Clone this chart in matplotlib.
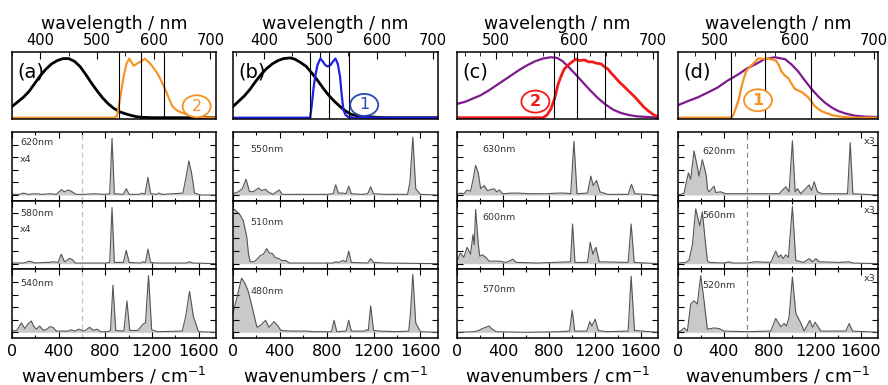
import matplotlib
matplotlib.use('Agg')
import matplotlib.pyplot as plt
from matplotlib.patches import Ellipse
from matplotlib.ticker import MultipleLocator

# ---------------- top panels: absorption / excitation spectra ----------------
a_black_wl = [350, 360, 370, 380, 390, 400, 410, 420, 430, 440, 450, 460, 470,
              480, 490, 500, 510, 520, 530, 540, 550, 560, 570, 580, 600, 710]
a_black = [0.17, 0.24, 0.31, 0.40, 0.52, 0.64, 0.74, 0.82, 0.87, 0.90, 0.90,
           0.86, 0.78, 0.66, 0.53, 0.41, 0.30, 0.21, 0.14, 0.09, 0.06, 0.035,
           0.015, 0.005, 0.0, 0.0]
a_orange_wl = [350, 530, 535, 540, 547, 552, 557, 561, 565, 570, 574, 579, 584,
               588, 591, 597, 604, 610, 616, 622, 627, 632, 637, 643, 649, 655,
               663, 671, 680, 690, 710]
a_orange = [0.0, 0.0, 0.02, 0.25, 0.63, 0.82, 0.90, 0.84, 0.79, 0.82, 0.84,
            0.86, 0.90, 0.87, 0.85, 0.79, 0.71, 0.62, 0.51, 0.40, 0.29, 0.19,
            0.14, 0.10, 0.08, 0.06, 0.04, 0.03, 0.015, 0.0, 0.0]

b_black_wl = [345, 355, 365, 375, 385, 395, 405, 415, 425, 435, 447, 455, 465,
              475, 485, 495, 505, 515, 525, 535, 545, 555, 565, 580, 600, 620, 709]
b_black = [0.17, 0.25, 0.33, 0.43, 0.55, 0.66, 0.75, 0.82, 0.87, 0.90, 0.91,
           0.89, 0.84, 0.78, 0.68, 0.57, 0.45, 0.34, 0.25, 0.17, 0.10, 0.05,
           0.03, 0.02, 0.005, 0.0, 0.0]
b_blue_wl = [345, 482, 485, 488, 491, 495, 500, 504, 509, 513, 518, 523, 527,
             531, 535, 538, 541, 545, 550, 560, 709]
b_blue = [0.0, 0.0, 0.2, 0.45, 0.63, 0.80, 0.90, 0.86, 0.80, 0.78, 0.80, 0.86,
          0.90, 0.82, 0.63, 0.35, 0.12, 0.04, 0.01, 0.0, 0.0]

c_purple_wl = [450, 460, 470, 480, 490, 500, 510, 520, 530, 540, 550, 560, 570,
               578, 585, 592, 600, 610, 620, 630, 640, 650, 660, 670, 680, 695, 707]
c_purple = [0.21, 0.24, 0.29, 0.34, 0.41, 0.49, 0.57, 0.65, 0.73, 0.80, 0.86,
            0.90, 0.92, 0.91, 0.86, 0.78, 0.68, 0.55, 0.42, 0.30, 0.20, 0.12,
            0.07, 0.04, 0.02, 0.01, 0.0]
c_red_wl = [450, 560, 565, 570, 575, 579, 583, 587, 592, 596, 602, 607, 613, 618,
            623, 628, 634, 638, 643, 647, 651, 657, 664, 670, 677, 683, 689, 695,
            702, 707]
c_red = [0.0, 0.0, 0.04, 0.13, 0.30, 0.50, 0.63, 0.74, 0.80, 0.84, 0.89, 0.87,
         0.88, 0.85, 0.85, 0.83, 0.82, 0.78, 0.74, 0.68, 0.63, 0.55, 0.47, 0.40,
         0.32, 0.24, 0.16, 0.10, 0.04, 0.02]

d_purple_wl = [453, 465, 478, 490, 503, 515, 529, 540, 550, 562, 575, 588, 596,
               604, 612, 621, 630, 638, 646, 655, 665, 676, 690, 705]
d_purple = [0.19, 0.25, 0.31, 0.38, 0.46, 0.56, 0.66, 0.75, 0.81, 0.89, 0.92,
            0.89, 0.81, 0.71, 0.58, 0.44, 0.32, 0.23, 0.16, 0.10, 0.06, 0.03,
            0.015, 0.01]
d_orange_wl = [453, 520, 523, 526, 530, 533, 536, 539, 543, 547, 550, 554, 558,
               562, 566, 570, 574, 577, 580, 583, 587, 592, 596, 600, 605, 609,
               613, 617, 621, 625, 630, 634, 640, 647, 655, 663, 675, 705]
d_orange = [0.0, 0.0, 0.05, 0.15, 0.30, 0.47, 0.60, 0.71, 0.77, 0.81, 0.85,
            0.90, 0.90, 0.89, 0.90, 0.89, 0.88, 0.86, 0.80, 0.71, 0.65, 0.60,
            0.52, 0.44, 0.41, 0.39, 0.35, 0.31, 0.25, 0.18, 0.13, 0.10, 0.07,
            0.04, 0.02, 0.01, 0.0, 0.0]

# excitation wavelengths (vertical lines)
a_lines = [539, 578, 619]
b_lines = [482, 515, 551]
c_lines = [574, 604, 639]
d_lines = [520, 562, 621]

# ---------------- bottom panels: Raman spectra ----------------
a620_wn = [0, 60, 100, 140, 200, 260, 330, 380, 423, 450, 480, 508, 550, 620,
           700, 800, 838, 858, 878, 955, 980, 1005, 1095, 1117, 1140, 1166, 1190,
           1240, 1260, 1290, 1466, 1495, 1517, 1540, 1566, 1620, 1750]
a620 = [0.01, 0.01, 0.03, 0.01, 0.02, 0.01, 0.02, 0.01, 0.085, 0.05, 0.08, 0.06,
        0.01, 0.01, 0.02, 0.01, 0.02, 0.9, 0.02, 0.01, 0.1, 0.01, 0.01, 0.03,
        0.01, 0.28, 0.02, 0.01, 0.03, 0.01, 0.03, 0.3, 0.54, 0.35, 0.03, 0.0, 0.0]
a580_wn = [0, 100, 151, 200, 280, 320, 350, 395, 423, 450, 470, 494, 520, 545,
           600, 700, 800, 838, 858, 878, 955, 980, 1005, 1100, 1125, 1145, 1166,
           1190, 1240, 1495, 1523, 1550, 1750]
a580 = [0.01, 0.01, 0.04, 0.01, 0.02, 0.02, 0.03, 0.02, 0.15, 0.03, 0.05, 0.085,
        0.06, 0.01, 0.01, 0.01, 0.01, 0.02, 0.89, 0.02, 0.02, 0.21, 0.02, 0.01,
        0.03, 0.02, 0.23, 0.02, 0.01, 0.01, 0.03, 0.01, 0.0]
a540_wn = [0, 40, 80, 110, 140, 166, 185, 210, 237, 270, 300, 323, 351, 380, 430,
           480, 508, 540, 570, 620, 666, 700, 730, 760, 820, 845, 866, 890, 960,
           986, 1010, 1080, 1110, 1125, 1145, 1171, 1198, 1250, 1460, 1490, 1523,
           1556, 1600, 1750]
a540 = [0.02, 0.03, 0.15, 0.06, 0.14, 0.18, 0.1, 0.05, 0.1, 0.03, 0.05, 0.09,
        0.08, 0.02, 0.02, 0.02, 0.04, 0.02, 0.05, 0.02, 0.08, 0.03, 0.05, 0.01,
        0.01, 0.03, 0.75, 0.03, 0.02, 0.5, 0.03, 0.03, 0.1, 0.13, 0.15, 0.9,
        0.04, 0.01, 0.02, 0.25, 0.65, 0.25, 0.01, 0.0]

b550_wn = [0, 44, 80, 111, 140, 170, 219, 245, 278, 300, 340, 395, 420, 500, 600,
           700, 800, 855, 877, 900, 940, 965, 988, 1010, 1100, 1150, 1175, 1200,
           1300, 1490, 1510, 1535, 1560, 1600, 1750]
b550 = [0.02, 0.05, 0.1, 0.25, 0.06, 0.05, 0.11, 0.07, 0.09, 0.05, 0.01, 0.08,
        0.01, 0.01, 0.01, 0.01, 0.01, 0.02, 0.16, 0.03, 0.03, 0.02, 0.14, 0.02,
        0.01, 0.02, 0.13, 0.02, 0.01, 0.01, 0.2, 0.92, 0.1, 0.01, 0.0]
b510_wn = [0, 15, 58, 88, 117, 132, 146, 180, 210, 234, 260, 287, 310, 336, 360,
           390, 420, 453, 480, 600, 800, 850, 877, 900, 940, 965, 988, 1010, 1150,
           1175, 1200, 1300, 1750]
b510 = [0.86, 0.86, 0.78, 0.68, 0.43, 0.16, 0.03, 0.03, 0.08, 0.13, 0.15, 0.24,
        0.17, 0.16, 0.1, 0.08, 0.05, 0.05, 0.01, 0.01, 0.01, 0.01, 0.03, 0.02,
        0.05, 0.03, 0.2, 0.02, 0.01, 0.08, 0.02, 0.01, 0.0]
b480_wn = [0, 15, 40, 73, 102, 132, 161, 190, 205, 234, 278, 307, 351, 380, 409,
           500, 560, 620, 700, 840, 863, 886, 965, 988, 1010, 1120, 1140, 1155,
           1175, 1200, 1250, 1400, 1500, 1515, 1535, 1560, 1600, 1750]
b480 = [0.3, 0.42, 0.6, 0.86, 0.78, 0.64, 0.42, 0.19, 0.08, 0.11, 0.19, 0.08,
        0.17, 0.11, 0.03, 0.02, 0.02, 0.02, 0.01, 0.01, 0.19, 0.01, 0.02, 0.19,
        0.02, 0.02, 0.04, 0.03, 0.42, 0.03, 0.02, 0.01, 0.02, 0.3, 0.92, 0.15,
        0.01, 0.0]

c630_wn = [0, 29, 60, 88, 118, 140, 162, 185, 206, 236, 265, 324, 345, 369, 398,
           472, 531, 634, 782, 870, 944, 990, 1018, 1045, 1136, 1165, 1186, 1215,
           1245, 1313, 1490, 1519, 1549, 1750]
c630 = [0.01, 0.03, 0.02, 0.08, 0.06, 0.25, 0.47, 0.35, 0.1, 0.15, 0.07, 0.1,
        0.05, 0.08, 0.02, 0.03, 0.03, 0.02, 0.02, 0.03, 0.03, 0.02, 0.85, 0.02,
        0.03, 0.3, 0.15, 0.23, 0.05, 0.01, 0.01, 0.17, 0.02, 0.0]
c600_wn = [0, 15, 29, 59, 88, 118, 139, 150, 162, 186, 198, 221, 251, 280, 369,
           428, 487, 516, 700, 988, 1006, 1027, 1136, 1160, 1183, 1209, 1239,
           1490, 1516, 1543, 1750]
c600 = [0.05, 0.1, 0.17, 0.1, 0.26, 0.15, 0.46, 0.3, 0.86, 0.3, 0.12, 0.14, 0.1,
        0.04, 0.04, 0.02, 0.07, 0.02, 0.01, 0.03, 0.63, 0.02, 0.02, 0.34, 0.15,
        0.26, 0.03, 0.02, 0.63, 0.02, 0.0]
c570_wn = [0, 150, 190, 221, 250, 280, 300, 340, 600, 900, 980, 1003, 1025, 1130,
           1156, 1175, 1203, 1230, 1300, 1490, 1516, 1545, 1750]
c570 = [0.0, 0.01, 0.03, 0.06, 0.08, 0.1, 0.06, 0.01, 0.0, 0.01, 0.02, 0.35,
        0.02, 0.02, 0.17, 0.1, 0.21, 0.03, 0.01, 0.02, 0.89, 0.03, 0.0]

d620_wn = [0, 23, 53, 73, 91, 111, 140, 169, 184, 213, 236, 248, 257, 272, 315,
           330, 374, 418, 622, 885, 943, 972, 1001, 1025, 1045, 1074, 1147, 1168,
           1191, 1220, 1264, 1483, 1507, 1530, 1750]
d620 = [0.01, 0.01, 0.03, 0.2, 0.35, 0.25, 0.7, 0.45, 0.3, 0.56, 0.4, 0.3, 0.1,
        0.05, 0.14, 0.04, 0.05, 0.02, 0.02, 0.02, 0.13, 0.05, 0.86, 0.05, 0.1,
        0.02, 0.16, 0.07, 0.21, 0.05, 0.02, 0.02, 0.83, 0.02, 0.0]
d560_wn = [0, 67, 96, 126, 155, 190, 213, 242, 257, 272, 400, 447, 476, 600, 680,
           812, 855, 879, 899, 920, 943, 966, 1001, 1031, 1100, 1147, 1177, 1206,
           1235, 1410, 1498, 1530, 1750]
d560 = [0.01, 0.02, 0.05, 0.3, 0.87, 0.6, 0.82, 0.3, 0.05, 0.02, 0.01, 0.03,
        0.01, 0.01, 0.03, 0.02, 0.2, 0.1, 0.14, 0.08, 0.14, 0.1, 0.91, 0.05, 0.02,
        0.08, 0.03, 0.08, 0.03, 0.02, 0.03, 0.01, 0.0]
d520_wn = [0, 23, 53, 82, 111, 140, 169, 199, 228, 257, 315, 359, 403, 600, 812,
           855, 899, 929, 949, 972, 1001, 1031, 1074, 1104, 1153, 1177, 1200, 1250,
           1469, 1498, 1527, 1750]
d520 = [0.01, 0.02, 0.07, 0.02, 0.45, 0.5, 0.45, 0.9, 0.5, 0.05, 0.07, 0.06,
        0.02, 0.01, 0.02, 0.22, 0.09, 0.14, 0.1, 0.24, 0.88, 0.3, 0.15, 0.02,
        0.19, 0.08, 0.16, 0.02, 0.02, 0.14, 0.02, 0.0]

ORANGE = '#f7901e'
BLUE = '#1f1fe6'
RED = '#f21b1b'
PURPLE = '#7d1a8c'

W, H = 888, 385
fig = plt.figure(figsize=(W / 100, H / 100), dpi=100)


def rect(x0, y0, w, h):
    # pixel box (top-left origin) -> figure fraction
    return [x0 / W, 1 - (y0 + h) / H, w / W, h / H]


cols = [(12, 204), (233, 205), (457, 201), (678, 200)]

top_specs = [
    dict(xlim=(350, 710), major=[400, 500, 600, 700], minor=50, label='(a)',
         curves=[(a_black_wl, a_black, 'black', 2.0), (a_orange_wl, a_orange, ORANGE, 1.5)],
         lines=a_lines, circ=('2', ORANGE, 'normal', 0.905, 0.19)),
    dict(xlim=(345, 709), major=[400, 500, 600, 700], minor=50, label='(b)',
         curves=[(b_black_wl, b_black, 'black', 2.0), (b_blue_wl, b_blue, BLUE, 1.6)],
         lines=b_lines, circ=('1', '#2a48b0', 'normal', 0.64, 0.21)),
    dict(xlim=(450, 707), major=[500, 600, 700], minor=20, label='(c)',
         curves=[(c_purple_wl, c_purple, PURPLE, 1.6), (c_red_wl, c_red, RED, 2.0)],
         lines=c_lines, circ=('2', RED, 'bold', 0.39, 0.26)),
    dict(xlim=(453, 705), major=[500, 600, 700], minor=25, label='(d)',
         curves=[(d_purple_wl, d_purple, PURPLE, 1.6), (d_orange_wl, d_orange, ORANGE, 1.6)],
         lines=d_lines, circ=('1', ORANGE, 'bold', 0.40, 0.28)),
]

for (x0, w), sp in zip(cols, top_specs):
    ax = fig.add_axes(rect(x0, 52, w, 67))
    for wl, val, c, lw in sp['curves']:
        ax.plot(wl, val, color=c, lw=lw, solid_joinstyle='round')
    for v in sp['lines']:
        ax.axvline(v, color='black', lw=0.8)
    ax.set_xlim(*sp['xlim'])
    ax.set_ylim(-0.02, 1.0)
    ax.set_yticks([])
    ax.xaxis.tick_top()
    ax.xaxis.set_label_position('top')
    ax.set_xticks(sp['major'])
    ax.xaxis.set_minor_locator(MultipleLocator(sp['minor']))
    ax.tick_params(axis='x', which='both', direction='in', top=True, bottom=False,
                   labelsize=10.5, pad=3)
    ax.tick_params(axis='x', which='major', length=5)
    ax.tick_params(axis='x', which='minor', length=3)
    ax.set_xlabel('wavelength / nm', fontsize=12.5, labelpad=3)
    for s in ax.spines.values():
        s.set_linewidth(1.1)
    ax.text(0.025, 0.70, sp['label'], transform=ax.transAxes, fontsize=14,
            va='center', ha='left')
    txt, col, wt, cx, cy = sp['circ']
    ax.add_patch(Ellipse((cx, cy), 28 / w, 22 / 67, transform=ax.transAxes,
                         facecolor='white', edgecolor=col, lw=1.3, zorder=5))
    ax.text(cx, cy, txt, transform=ax.transAxes, color=col, fontsize=11.5,
            fontweight=wt, ha='center', va='center', zorder=6)

bottom_specs = [
    [(a620_wn, a620, '620nm', 'x4'), (a580_wn, a580, '580nm', 'x4'),
     (a540_wn, a540, '540nm', None)],
    [(b550_wn, b550, '550nm', None), (b510_wn, b510, '510nm', None),
     (b480_wn, b480, '480nm', None)],
    [(c630_wn, c630, '630nm', None), (c600_wn, c600, '600nm', None),
     (c570_wn, c570, '570nm', None)],
    [(d620_wn, d620, '620nm', 'x3'), (d560_wn, d560, '560nm', 'x3'),
     (d520_wn, d520, '520nm', 'x3')],
]
label_pos = [
    [(0.04, 0.84), (0.04, 0.82), (0.04, 0.80)],
    [(0.085, 0.74), (0.085, 0.68), (0.085, 0.68)],
    [(0.125, 0.74), (0.125, 0.75), (0.125, 0.70)],
    [(0.12, 0.72), (0.12, 0.79), (0.12, 0.77)],
]
dashed = [('#c4c4c4', 600), None, None, ('#8a8a8a', 600)]

sub_h = 206 / 3
for ci, ((x0, w), specs) in enumerate(zip(cols, bottom_specs)):
    for ri, (wn, val, lab, mult) in enumerate(specs):
        ax = fig.add_axes(rect(x0, 132 + ri * sub_h, w, sub_h))
        ax.fill_between(wn, 0, val, color='#c9c9c9', lw=0)
        ax.plot(wn, val, color='#555555', lw=0.8)
        if dashed[ci]:
            ax.axvline(dashed[ci][1], color=dashed[ci][0], lw=0.9, ls=(0, (4, 3)))
        ax.set_xlim(0, 1750)
        ax.set_ylim(-0.09, 1.0)
        ax.set_yticks([0.0, 0.2, 0.4, 0.6, 0.8])
        ax.set_xticks([0, 400, 800, 1200, 1600])
        ax.xaxis.set_minor_locator(MultipleLocator(200))
        ax.tick_params(which='both', direction='in', top=True, bottom=True,
                       left=True, right=True, labelleft=False)
        ax.tick_params(which='major', length=4, width=0.8)
        ax.tick_params(which='minor', length=2.5, width=0.8)
        if ri < 2:
            ax.tick_params(axis='x', labelbottom=False)
        else:
            ax.tick_params(axis='x', labelsize=11.5, pad=4)
            ax.set_xlabel('wavenumbers / cm$^{-1}$', fontsize=12.5, labelpad=5)
        for s in ax.spines.values():
            s.set_linewidth(1.1)
        lx, ly = label_pos[ci][ri]
        ax.text(lx, ly, lab, transform=ax.transAxes, fontsize=6.8,
                va='center', ha='left', color='#333333')
        if mult:
            if ci == 0:
                ax.text(lx, ly - 0.24, mult, transform=ax.transAxes,
                        fontsize=6.8, va='center', ha='left', color='#333333')
            else:
                ax.text(0.985, 0.86, mult, transform=ax.transAxes,
                        fontsize=6.8, va='center', ha='right', color='#333333')

fig.savefig('out.png', dpi=100)
